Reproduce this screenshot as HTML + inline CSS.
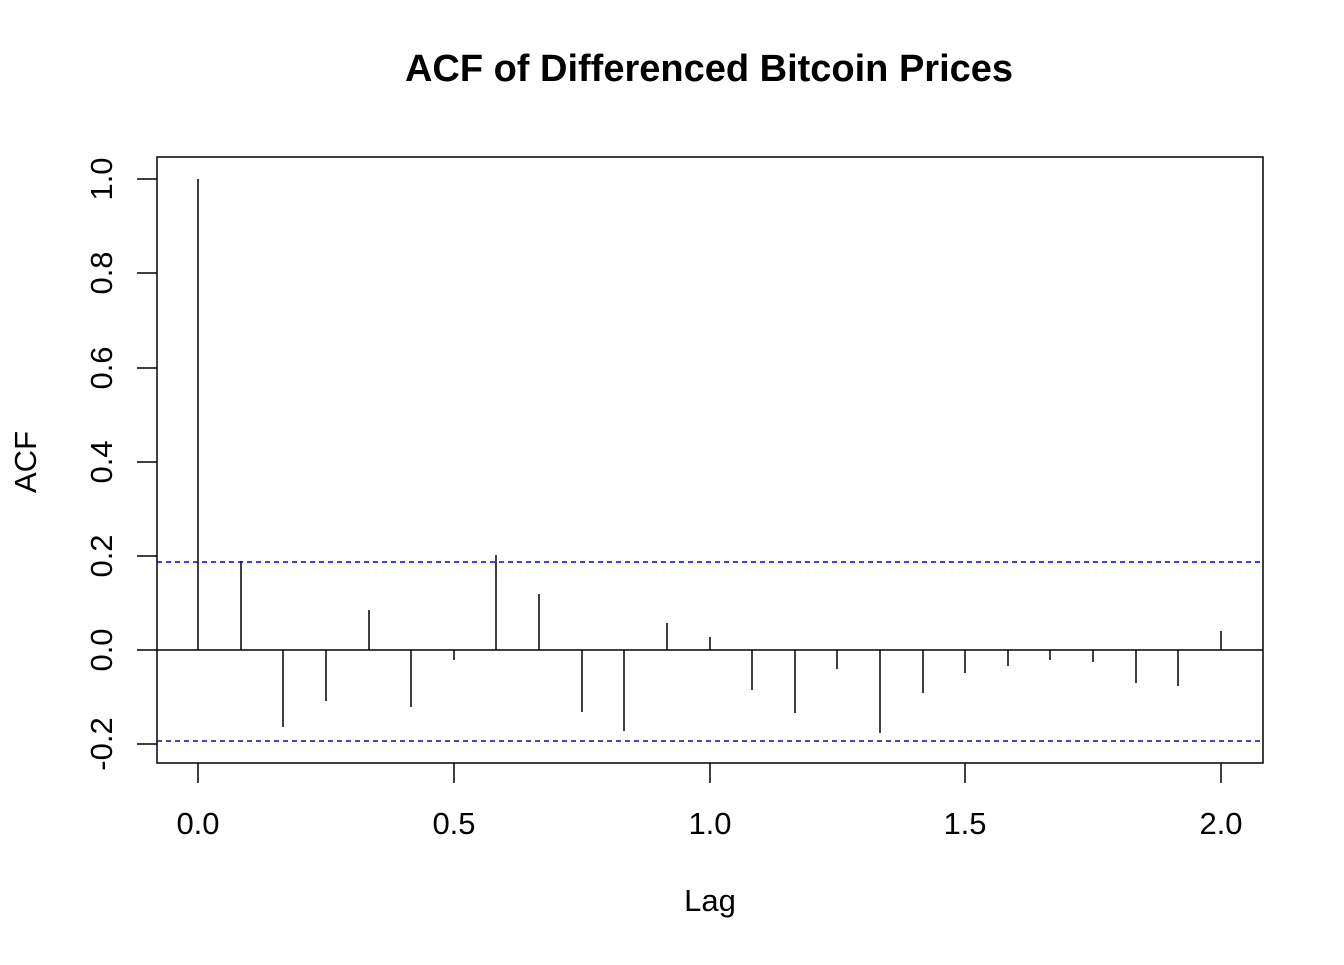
<!DOCTYPE html>
<html><head><style>body{margin:0;background:#fff}</style></head><body>
<svg width="1344" height="960" xmlns="http://www.w3.org/2000/svg" font-family="Liberation Sans, sans-serif">
<rect width="1344" height="960" fill="#fff"/>
<text x="709" y="81" text-anchor="middle" font-size="38" font-weight="bold">ACF of Differenced Bitcoin Prices</text>
<rect x="157" y="157" width="1106" height="606" fill="none" stroke="#000" stroke-width="1.5"/>
<g stroke="#000" stroke-width="1.5">
<line x1="198" y1="763" x2="198" y2="783"/><line x1="454" y1="763" x2="454" y2="783"/><line x1="710" y1="763" x2="710" y2="783"/><line x1="965" y1="763" x2="965" y2="783"/><line x1="1221" y1="763" x2="1221" y2="783"/>
<line x1="157" y1="179" x2="137" y2="179"/><line x1="157" y1="273" x2="137" y2="273"/><line x1="157" y1="368" x2="137" y2="368"/><line x1="157" y1="462" x2="137" y2="462"/><line x1="157" y1="556" x2="137" y2="556"/><line x1="157" y1="650" x2="137" y2="650"/><line x1="157" y1="744" x2="137" y2="744"/>
<line x1="157" y1="650" x2="1263" y2="650"/>
</g>
<g font-size="31" text-anchor="middle">
<text x="198" y="834">0.0</text><text x="454" y="834">0.5</text><text x="710" y="834">1.0</text><text x="965" y="834">1.5</text><text x="1221" y="834">2.0</text>
<text x="710" y="911">Lag</text>
</g>
<g font-size="31" text-anchor="middle">
<text transform="translate(112,179) rotate(-90)">1.0</text>
<text transform="translate(112,273) rotate(-90)">0.8</text>
<text transform="translate(112,368) rotate(-90)">0.6</text>
<text transform="translate(112,462) rotate(-90)">0.4</text>
<text transform="translate(112,556) rotate(-90)">0.2</text>
<text transform="translate(112,650) rotate(-90)">0.0</text>
<text transform="translate(112,744) rotate(-90)">-0.2</text>
<text transform="translate(36,462) rotate(-90)">ACF</text>
</g>
<g stroke="#000" stroke-width="1.5">
<line x1="198" y1="650" x2="198" y2="179"/>
<line x1="241" y1="650" x2="241" y2="561"/>
<line x1="283" y1="650" x2="283" y2="727"/>
<line x1="326" y1="650" x2="326" y2="701"/>
<line x1="369" y1="650" x2="369" y2="610"/>
<line x1="411" y1="650" x2="411" y2="707"/>
<line x1="454" y1="650" x2="454" y2="660"/>
<line x1="496" y1="650" x2="496" y2="555"/>
<line x1="539" y1="650" x2="539" y2="594"/>
<line x1="582" y1="650" x2="582" y2="712"/>
<line x1="624" y1="650" x2="624" y2="731"/>
<line x1="667" y1="650" x2="667" y2="623"/>
<line x1="710" y1="650" x2="710" y2="637"/>
<line x1="752" y1="650" x2="752" y2="690"/>
<line x1="795" y1="650" x2="795" y2="713"/>
<line x1="837" y1="650" x2="837" y2="669"/>
<line x1="880" y1="650" x2="880" y2="733"/>
<line x1="923" y1="650" x2="923" y2="693"/>
<line x1="965" y1="650" x2="965" y2="673"/>
<line x1="1008" y1="650" x2="1008" y2="666"/>
<line x1="1050" y1="650" x2="1050" y2="660"/>
<line x1="1093" y1="650" x2="1093" y2="662"/>
<line x1="1136" y1="650" x2="1136" y2="683"/>
<line x1="1178" y1="650" x2="1178" y2="686"/>
<line x1="1221" y1="650" x2="1221" y2="631"/>
</g>
<g stroke="#0000ee" stroke-width="1.5" stroke-dasharray="5,4">
<line x1="157" y1="562" x2="1263" y2="562"/>
<line x1="157" y1="741" x2="1263" y2="741"/>
</g>
</svg>
</body></html>
